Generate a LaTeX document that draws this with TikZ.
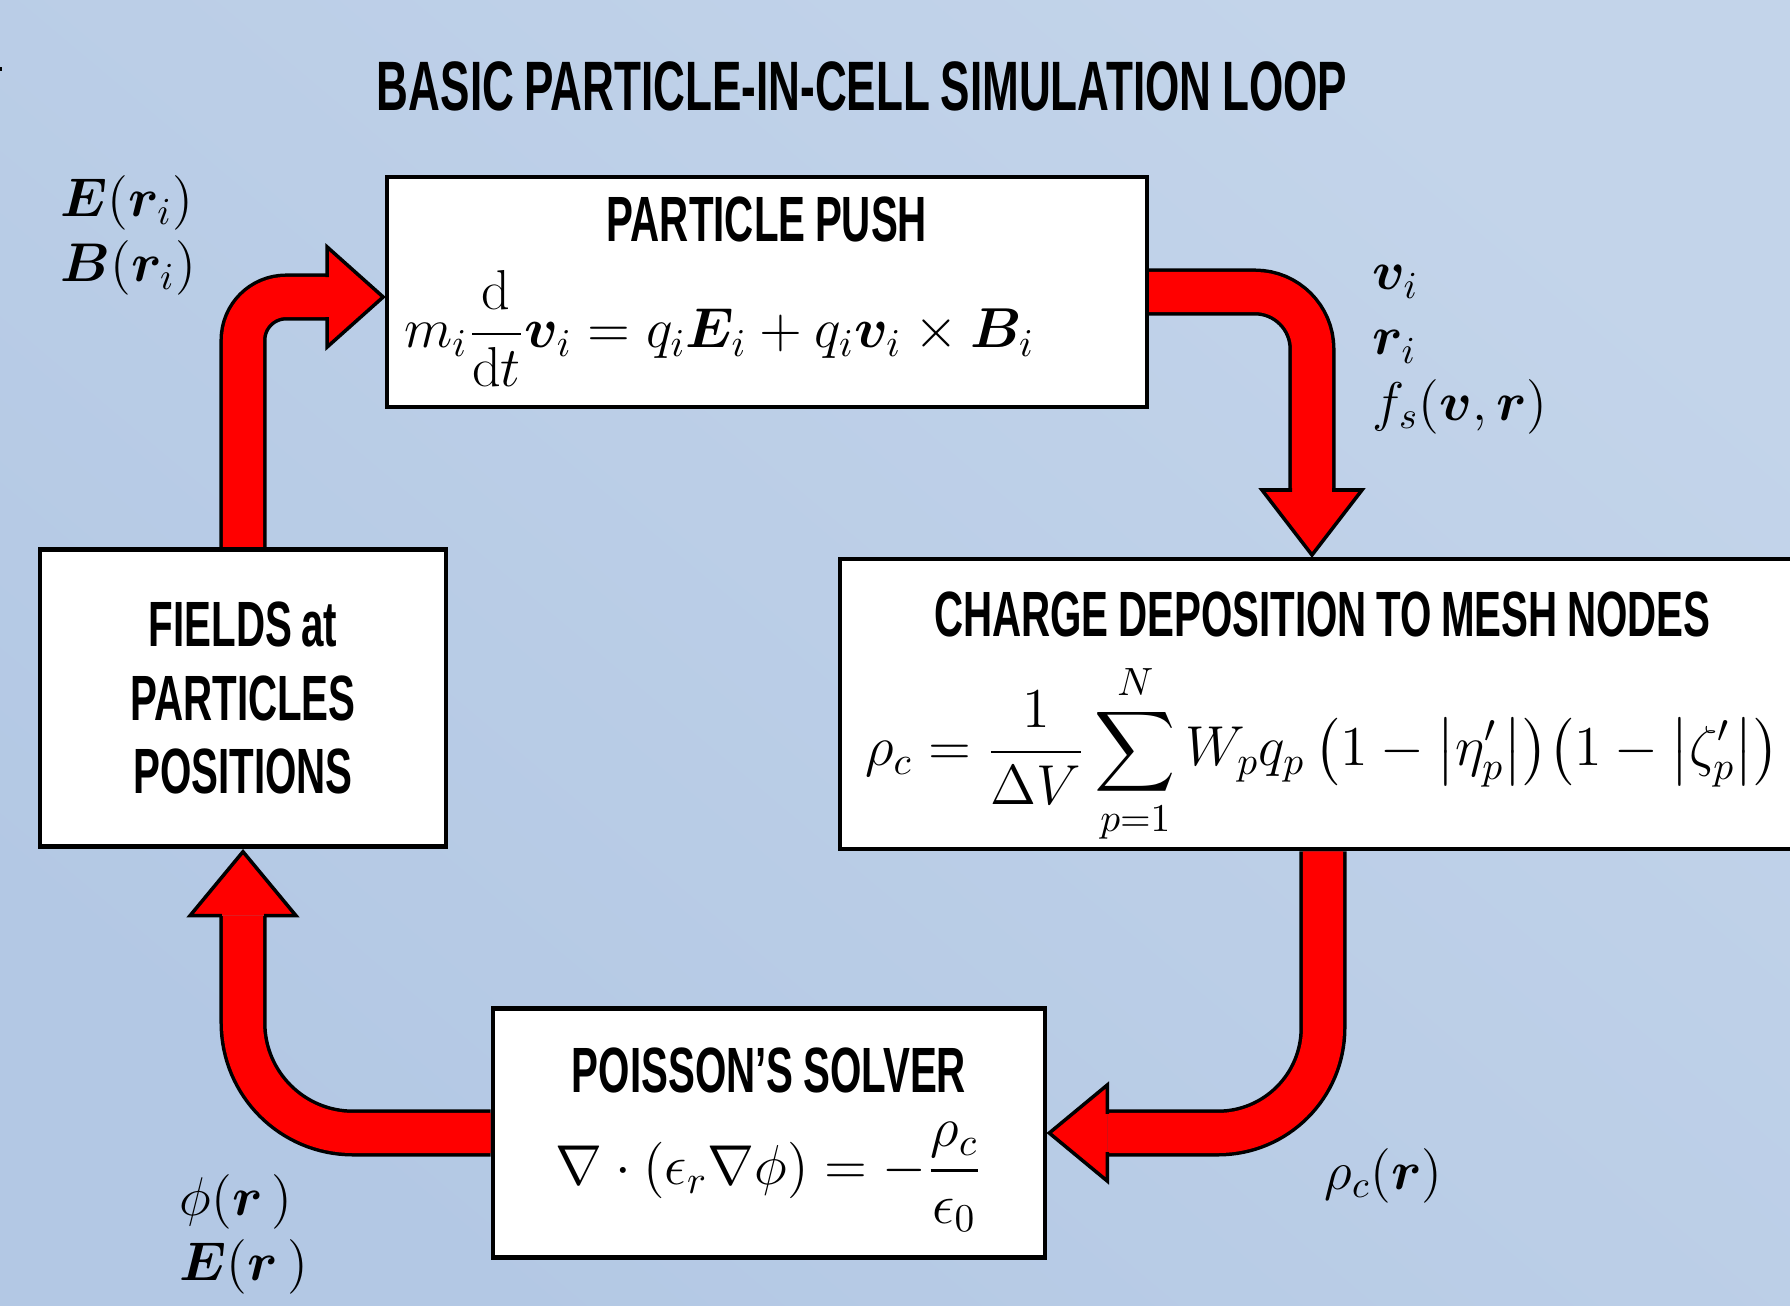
\RequirePackage{fix-cm}
\documentclass[tikz,border=0pt]{standalone}
\usepackage{amsmath, amssymb}
\usepackage{bm}
\usepackage{fontspec}
\usetikzlibrary{positioning,calc,backgrounds}

\newfontfamily\agency[FakeStretch=0.63, WordSpace=0.85]{Liberation Sans}
\newcommand{\boxhead}[1]{{\agency\bfseries\fontsize{18.2}{21}\selectfont
  \spaceskip=0pt\relax #1}}
\newcommand{\pipehead}[3]{%
  \fill[pipered] (#1) -- ($(#1)+(#2)+(#3)$) -- ($(#1)+(#2)-(#3)$) -- cycle;
  \draw[headline] ($(#1)+(#2)+0.4*(#3)$) -- ($(#1)+(#2)+(#3)$) -- (#1)
    -- ($(#1)+(#2)-(#3)$) -- ($(#1)+(#2)-0.4*(#3)$);}

\definecolor{bgtop}{RGB}{195,212,234}
\definecolor{bgbot}{RGB}{179,200,228}
\definecolor{pipered}{RGB}{255,0,0}

\begin{document}
\begin{tikzpicture}[
  x=0.01cm, y=-0.01cm,
  box/.style={draw, line width=1.2pt, fill=white, inner sep=0pt,
    align=center, font=\fontsize{16}{20}\selectfont},
  heading/.style={font=\agency\bfseries\fontsize{18.2}{21}\selectfont},
  lbl/.style={anchor=north west, inner sep=0pt, align=left,
    font=\fontsize{15.5}{18.5}\selectfont},
  pipe/.style={draw=pipered, line width=0.40cm,
    preaction={draw=black, line width=0.47cm}},
  headline/.style={draw=black, line width=1pt, line join=miter}
]
  \useasboundingbox (0,0) rectangle (1790,1306);

  \node[font=\agency\bfseries\fontsize{19.9}{24}\selectfont] (title) at (862,86)
    {BASIC PARTICLE-IN-CELL SIMULATION LOOP};

  \node[box, minimum width=7.59cm, minimum height=2.30cm, text width=7.25cm,
    align=left] (push) at (767,292)
    {\makebox[\hsize]{\boxhead{PARTICLE PUSH}}\\[0.25cm]
     $\displaystyle m_i\frac{\mathrm{d}}{\mathrm{d}t}\bm{v}_i = q_i\bm{E}_i
      + q_i\bm{v}_i\times\bm{B}_i$};
  \node[box, anchor=north west, minimum width=9.64cm, minimum height=2.90cm]
    (charge) at (838,557)
    {\parbox[c][2.90cm][t]{9.64cm}{\centering\vspace*{0.33cm}%
     \boxhead{CHARGE DEPOSITION TO MESH NODES}\par\vspace{0.22cm}
     $\displaystyle \rho_c = \frac{1}{\Delta V}\sum_{p=1}^{N} W_p q_p\,
      \bigl(1-\bigl|\eta'_p\bigr|\bigr)\bigl(1-\bigl|\zeta'_p\bigr|\bigr)$}};
  \node[box, heading, minimum width=4.06cm, minimum height=2.97cm]
    (fields) at (243,698) {FIELDS at\\PARTICLES\\POSITIONS};
  \node[box, minimum width=5.52cm, minimum height=2.49cm] (poisson) at (769,1133)
    {\boxhead{\rule{0pt}{0.58cm}POISSON’S SOLVER}\\[0.22cm]
     $\displaystyle \nabla\cdot(\epsilon_r\nabla\phi) = -\frac{\rho_c}{\epsilon_0}$};

  \node[lbl] (fpart) at (60,175) {$\bm{E}(\bm{r}_i)$\\$\bm{B}(\bm{r}_i)$};
  \node[lbl] (pmove) at (1372,265) {$\bm{v}_i$\\$\bm{r}_i$\\$f_s(\bm{v},\bm{r})$};
  \node[lbl] (rhoc) at (1324,1148) {$\rho_c(\bm{r})$};
  \node[lbl] (phiE) at (179,1174) {$\phi(\bm{r}\,)$\\$\bm{E}(\bm{r}\,)$};

  \coordinate (tipA) at ($(push.west)+(-2,5)$);
  \coordinate (tipB) at ($(charge.north west)+(474,-2)$);
  \coordinate (tipC) at ($(fields.south)+(0,3)$);
  \coordinate (tipD) at ($(poisson.east)+(2,0)$);

  \begin{pgfonlayer}{background}
    \shade[top color=bgtop, bottom color=bgbot, shading angle=-40]
      (0,0) rectangle (1790,1306);
    \fill (0,67) rectangle (2,71);
    % the loop
    \draw[pipe, rounded corners=0.43cm] (fields.north) |- ($(tipA)+(-56,0)$);
    \pipehead{tipA}{-56,0}{0,50}
    \draw[pipe, rounded corners=0.57cm] (push.east) -| ($(tipB)+(0,-65)$);
    \pipehead{tipB}{0,-65}{50,0}
    \draw[pipe, rounded corners=1.05cm] ($(charge.south west)+(485,0)$)
      |- ($(tipD)+(58,0)$);
    \pipehead{tipD}{58,0}{0,48}
    \draw[pipe, rounded corners=1.1cm] (poisson.west) -| ($(tipC)+(0,64)$);
    \pipehead{tipC}{0,64}{53,0}
  \end{pgfonlayer}
\end{tikzpicture}
\end{document}
